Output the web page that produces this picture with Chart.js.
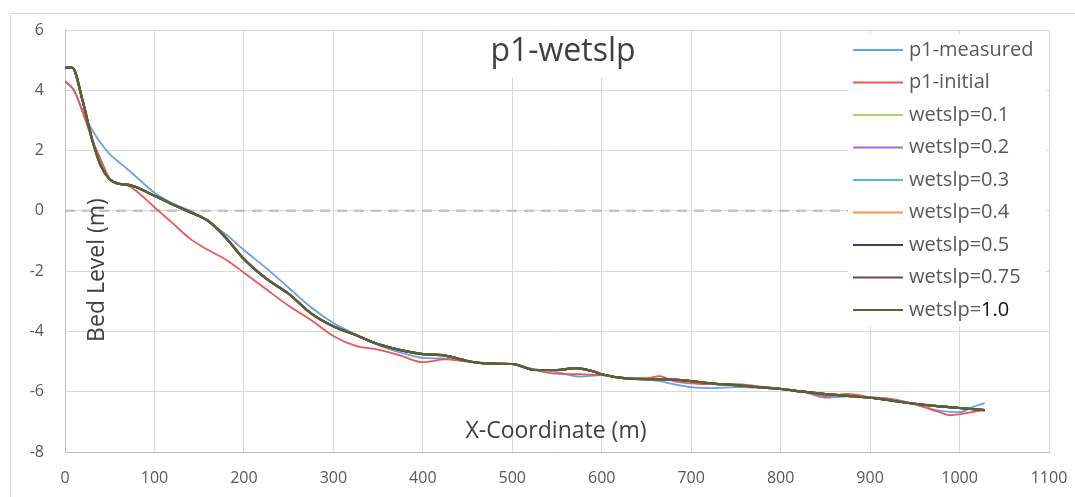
<!DOCTYPE html>
<html>
<head>
<meta charset="utf-8">
<script src="https://cdn.jsdelivr.net/npm/chart.js@4/dist/chart.umd.min.js"></script>
<style>
  html, body { margin: 0; padding: 0; background: #fff; }
  #wrap { width: 1075px; height: 497px; }
</style>
</head>
<body>
<div id="wrap"><canvas id="bedChart" width="1075" height="497"></canvas></div>
<script>
// x positions (m) and bed levels (m)
const measuredX = [0, 10, 20, 30, 40, 50, 60, 70, 80, 100, 120, 140, 160, 180, 200, 225, 250, 275, 300, 325, 350, 375, 400, 425, 450, 475, 500, 525, 550, 575, 600, 625, 650, 665, 680, 700, 725, 750, 775, 800, 825, 850, 875, 900, 925, 950, 975, 1000, 1015, 1028]
const measuredY = [4.3, 4.0, 3.3, 2.7, 2.25, 1.88, 1.62, 1.38, 1.12, 0.6, 0.25, 0.0, -0.35, -0.78, -1.3, -1.9, -2.55, -3.2, -3.72, -4.1, -4.45, -4.7, -4.88, -4.9, -5.0, -5.05, -5.08, -5.25, -5.35, -5.5, -5.45, -5.55, -5.6, -5.65, -5.75, -5.85, -5.88, -5.85, -5.87, -5.91, -6.0, -6.2, -6.15, -6.18, -6.26, -6.4, -6.62, -6.68, -6.5, -6.38]

const initialX = [0, 10, 20, 30, 40, 50, 60, 70, 80, 100, 120, 140, 160, 180, 200, 225, 250, 275, 300, 325, 350, 375, 400, 425, 450, 475, 500, 525, 550, 575, 600, 625, 650, 665, 680, 700, 725, 750, 775, 800, 825, 850, 875, 900, 925, 950, 975, 990, 1000, 1015, 1028]
const initialY = [4.3, 4.0, 3.25, 2.4, 1.7, 1.06, 0.9, 0.84, 0.65, 0.12, -0.4, -0.93, -1.3, -1.62, -2.05, -2.6, -3.15, -3.62, -4.15, -4.48, -4.6, -4.8, -5.02, -4.93, -5.0, -5.05, -5.08, -5.28, -5.4, -5.42, -5.45, -5.55, -5.55, -5.48, -5.65, -5.72, -5.75, -5.75, -5.82, -5.9, -6.0, -6.15, -6.07, -6.18, -6.25, -6.42, -6.65, -6.78, -6.75, -6.67, -6.6]

// all wetslp runs sit on top of each other in the picture
const wetslpX = [0, 8, 20, 30, 40, 50, 60, 70, 80, 100, 120, 140, 160, 180, 200, 225, 250, 275, 300, 325, 350, 375, 400, 425, 450, 475, 500, 525, 550, 570, 590, 600, 625, 650, 665, 680, 700, 725, 750, 775, 800, 825, 850, 875, 900, 925, 950, 975, 1000, 1028]
const wetslpY = [4.75, 4.75, 3.62, 2.4, 1.5, 1.05, 0.9, 0.87, 0.78, 0.5, 0.22, -0.05, -0.33, -0.9, -1.6, -2.25, -2.75, -3.4, -3.83, -4.12, -4.42, -4.62, -4.75, -4.8, -4.98, -5.07, -5.08, -5.28, -5.28, -5.22, -5.32, -5.42, -5.55, -5.58, -5.58, -5.6, -5.65, -5.73, -5.78, -5.85, -5.91, -6.0, -6.08, -6.14, -6.2, -6.3, -6.4, -6.48, -6.54, -6.61]

const seriesNames = ['p1-measured', 'p1-initial', 'wetslp=0.1', 'wetslp=0.2', 'wetslp=0.3', 'wetslp=0.4', 'wetslp=0.5', 'wetslp=0.75', 'wetslp=1.0']
const seriesColors = ['#63a2ec', '#ef5656', '#a6d46e', '#9a6ed4', '#4fbcdc', '#f7964a', '#3e3e68', '#6c4a44', '#5a6234']

const yTicks = [6, 4, 2, 0, -2, -4, -6, -8]
const xTicks = [0, 100, 200, 300, 400, 500, 600, 700, 800, 900, 1000, 1100]

const zeroLine = [{x: 0, y: 0}, {x: 1100, y: 0}]

function pts(xs, ys) {
  return xs.map((x, i) => ({x: x, y: ys[i]}))
}

const seriesData = [pts(measuredX, measuredY), pts(initialX, initialY)]
for (let i = 2; i < seriesNames.length; i++) seriesData.push(pts(wetslpX, wetslpY))

const datasets = seriesNames.map((name, i) => ({
  label: name,
  data: seriesData[i],
  borderColor: seriesColors[i],
  borderWidth: i < 2 ? 1.8 : 2.2,
  pointRadius: 0,
  cubicInterpolationMode: 'monotone',
  order: seriesNames.length - i
}))
datasets.push({
  label: 'zero',
  data: zeroLine,
  borderColor: '#c4c4c4',
  borderWidth: 2.5,
  borderDash: [10, 7],
  pointRadius: 0,
  order: 99
})

const font = "'Open Sans', sans-serif"

// frame, title, axis titles and the floating legend
const decorations = {
  id: 'decorations',
  beforeDraw(chart) {
    const ctx = chart.ctx
    ctx.save()
    ctx.fillStyle = '#fff'
    ctx.fillRect(0, 0, chart.width, chart.height)
    ctx.strokeStyle = '#d9d9d9'
    ctx.lineWidth = 1
    ctx.strokeRect(10.5, 13.5, 1200, 600)
    ctx.restore()
  },
  afterDatasetsDraw(chart) {
    const ctx = chart.ctx
    ctx.save()
    // title box
    ctx.fillStyle = '#fff'
    ctx.fillRect(476, 31, 174, 46)
    ctx.fillStyle = '#404040'
    ctx.font = '32px ' + font
    ctx.textAlign = 'center'
    ctx.textBaseline = 'middle'
    ctx.fillText('p1-wetslp', 563, 52)

    // axis titles
    ctx.font = '23px ' + font
    ctx.fillText('X-Coordinate (m)', 556, 431)
    ctx.save()
    ctx.translate(97, 270)
    ctx.rotate(-Math.PI / 2)
    ctx.fillText('Bed Level (m)', 0, 0)
    ctx.restore()

    // legend
    ctx.fillStyle = '#fff'
    ctx.fillRect(848, 34, 198, 292)
    ctx.textAlign = 'left'
    ctx.font = '20px ' + font
    chart.data.datasets.forEach((ds, i) => {
      if (ds.label === 'zero') return
      const y = 50 + i * 32.5
      ctx.strokeStyle = ds.borderColor
      ctx.lineWidth = 2
      ctx.beginPath()
      ctx.moveTo(853, y)
      ctx.lineTo(903, y)
      ctx.stroke()
      const label = ds.label
      if (label.endsWith('1.0')) {
        const head = label.slice(0, -3)
        ctx.fillStyle = '#595959'
        ctx.fillText(head, 909, y)
        ctx.fillStyle = '#111'
        ctx.fillText('1.0', 909 + ctx.measureText(head).width, y)
      } else {
        ctx.fillStyle = '#595959'
        ctx.fillText(label, 909, y)
      }
    })
    ctx.restore()
  }
}

new Chart(document.getElementById('bedChart'), {
  type: 'line',
  data: { datasets: datasets },
  options: {
    responsive: false,
    devicePixelRatio: 1,
    animation: false,
    layout: { padding: { left: 10, top: 30, right: 26, bottom: 0 } },
    plugins: {
      legend: { display: false },
      title: { display: false },
      tooltip: { enabled: false }
    },
    scales: {
      x: {
        type: 'linear',
        min: 0,
        max: 1100,
        afterBuildTicks: s => { s.ticks = xTicks.map(v => ({value: v})) },
        afterFit: s => { s.height = 45; s.paddingLeft = 0; s.paddingRight = 0 },
        grid: { color: '#d9d9d9', drawTicks: false },
        border: { color: '#bfbfbf' },
        ticks: { color: '#595959', padding: 17, font: { family: font, size: 16 }, callback: v => String(v) }
      },
      y: {
        min: -8,
        max: 6,
        afterBuildTicks: s => { s.ticks = yTicks.map(v => ({value: v})) },
        afterFit: s => { s.width = 55; s.paddingTop = 0; s.paddingBottom = 0 },
        grid: { color: '#d9d9d9', drawTicks: false },
        border: { color: '#bfbfbf' },
        ticks: { color: '#595959', padding: 21, font: { family: font, size: 16 } }
      }
    }
  },
  plugins: [decorations]
})
</script>
</body>
</html>
